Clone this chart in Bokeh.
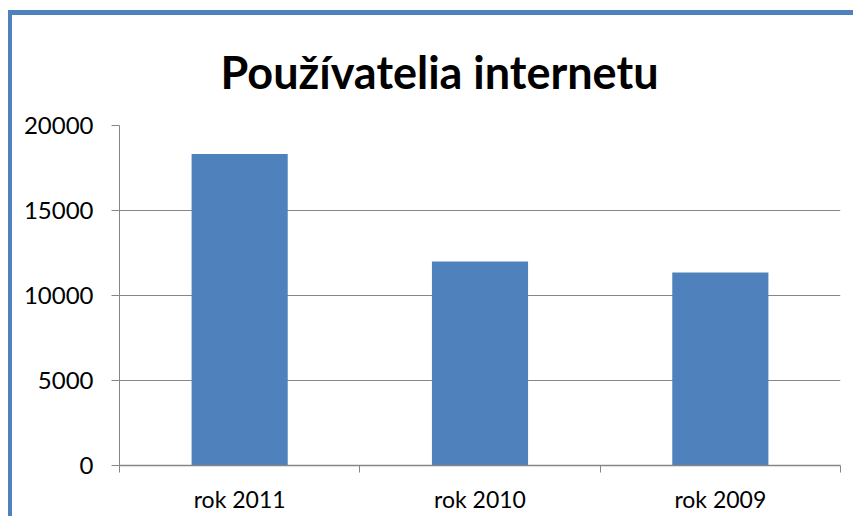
import numpy as np
from bokeh.plotting import figure
from bokeh.models import FixedTicker, Range1d
from bokeh.embed import file_html
from bokeh.resources import INLINE

categories = ["rok 2011", "rok 2010", "rok 2009"]
values = [18330, 12000, 11350]
y_ticks = [0, 5000, 10000, 15000, 20000]

x = np.arange(len(categories)) + 0.5

p = figure(width=845, height=506, output_backend="svg", toolbar_location=None,
           x_range=Range1d(0, len(categories)), y_range=Range1d(0, 20000),
           title="Používatelia internetu",
           min_border_left=107, min_border_right=17, min_border_top=110, min_border_bottom=56)
p.styles = {"margin-left": "8px", "margin-top": "10px",
            "border-left": "4px solid #4f81bd", "border-top": "5px solid #4f81bd"}

p.vbar(x=x, top=values, width=0.4, color="#4f81bd", line_color=None)

p.title.text_font = "Lato"
p.title.text_font_size = "45px"
p.title.text_font_style = "bold"
p.title.align = "left"
p.title.offset = 101
p.title.text_color = "#000000"
p.title.standoff = 54

p.outline_line_color = None
p.background_fill_color = "white"
p.border_fill_color = "white"

p.xgrid.grid_line_color = None
p.ygrid.grid_line_color = "#868686"
p.ygrid.grid_line_width = 1
p.ygrid.ticker = FixedTicker(ticks=y_ticks)

p.yaxis.ticker = FixedTicker(ticks=y_ticks)
p.yaxis.axis_line_color = "#868686"
p.yaxis.major_tick_line_color = "#868686"
p.yaxis.major_tick_out = 8
p.yaxis.major_tick_in = 0
p.yaxis.minor_tick_line_color = None
p.yaxis.major_label_text_font = "Lato"
p.yaxis.major_label_text_font_size = "24px"
p.yaxis.major_label_text_color = "#000000"
p.yaxis.major_label_standoff = 18

p.xaxis.ticker = FixedTicker(ticks=list(x), minor_ticks=list(range(len(categories) + 1)))
p.xaxis.major_label_overrides = {float(xi): c for xi, c in zip(x, categories)}
p.xaxis.axis_line_color = "#868686"
p.xaxis.axis_line_width = 1.5
p.xaxis.major_tick_line_color = None
p.xaxis.major_tick_out = 0
p.xaxis.major_tick_in = 0
p.xaxis.minor_tick_line_color = "#868686"
p.xaxis.minor_tick_out = 7
p.xaxis.minor_tick_in = 0
p.xaxis.major_label_text_font = "Lato"
p.xaxis.major_label_text_font_size = "23px"
p.xaxis.major_label_text_color = "#000000"
p.xaxis.major_label_standoff = 12

open("out.html", "w").write(file_html(p, INLINE))
